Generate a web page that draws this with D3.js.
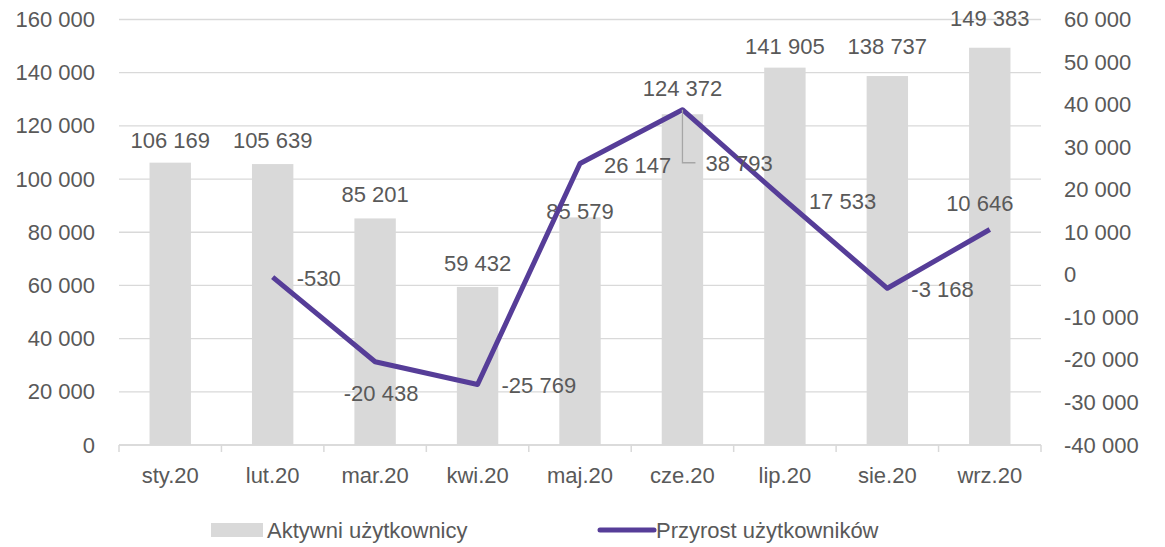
<!DOCTYPE html>
<html><head><meta charset="utf-8">
<script src="https://cdn.jsdelivr.net/npm/d3@7"></script>
<style>
body{margin:0;background:#fff;}
text{font-family:"Liberation Sans",Arial,sans-serif;fill:#595959;}
</style></head>
<body><svg id="c" width="1165" height="547"></svg>
<script>
const categories = ["sty.20","lut.20","mar.20","kwi.20","maj.20","cze.20","lip.20","sie.20","wrz.20"];
const activeUsers = [106169,105639,85201,59432,85579,124372,141905,138737,149383];
const userGrowth = [null,-530,-20438,-25769,26147,38793,17533,-3168,10646];
const leftTicks = [0,20000,40000,60000,80000,100000,120000,140000,160000];
const rightTicks = [-40000,-30000,-20000,-10000,0,10000,20000,30000,40000,50000,60000];
const seriesNames = ["Aktywni użytkownicy","Przyrost użytkowników"];

// label placement (layout, not data)
const barLabelGap = [23,24,24,24,6,26,22,30,30];
const lineLabelPos = [null,"right","below","right","right","leader","right","right","above"];

const svg = d3.select("#c");
const M = {l:119, r:1041, t:19.5, b:445};
const fs = 22;
const fmt = v => d3.format(",")(v).replace(/,/g," ").replace(/\u2212/g,"-");

const xb = d3.scaleBand().domain(categories).range([M.l,M.r]);
const yL = d3.scaleLinear().domain([0,160000]).range([M.b,M.t]);
const yR = d3.scaleLinear().domain([-40000,60000]).range([M.b,M.t]);

// gridlines
svg.append("g").selectAll("line").data(leftTicks).join("line")
  .attr("x1",M.l).attr("x2",M.r).attr("y1",d=>yL(d)).attr("y2",d=>yL(d))
  .attr("stroke","#d9d9d9").attr("stroke-width",1.3);

// bars
svg.append("g").selectAll("rect").data(activeUsers).join("rect")
  .attr("x",(d,i)=>xb(categories[i])+xb.bandwidth()/2-20.7)
  .attr("width",41.4)
  .attr("y",d=>yL(d)).attr("height",d=>yL(0)-yL(d))
  .attr("fill","#d9d9d9");

// x axis baseline + ticks
svg.append("line").attr("x1",M.l).attr("x2",M.r).attr("y1",M.b).attr("y2",M.b).attr("stroke","#d9d9d9").attr("stroke-width",1.5);
const bounds = categories.map(c=>xb(c)).concat([M.r]);
svg.append("g").selectAll("line").data(bounds).join("line")
  .attr("x1",d=>d).attr("x2",d=>d).attr("y1",M.b).attr("y2",M.b+7)
  .attr("stroke","#d9d9d9").attr("stroke-width",1.5);

// x labels
svg.append("g").selectAll("text").data(categories).join("text")
  .attr("x",d=>xb(d)+xb.bandwidth()/2).attr("y",483)
  .attr("text-anchor","middle").attr("font-size",fs).text(d=>d);

// left axis
const gl = svg.append("g").attr("transform",`translate(${M.l},0)`)
  .call(d3.axisLeft(yL).tickValues(leftTicks).tickSize(0).tickPadding(24).tickFormat(fmt));
gl.select(".domain").remove();
gl.selectAll("text").attr("font-size",fs).attr("font-family","Liberation Sans, Arial, sans-serif").attr("fill","#595959");

// right axis
const gr = svg.append("g").attr("transform",`translate(${M.r},0)`)
  .call(d3.axisRight(yR).tickValues(rightTicks).tickSize(0).tickPadding(23).tickFormat(fmt));
gr.select(".domain").remove();
gr.selectAll("text").attr("font-size",fs).attr("font-family","Liberation Sans, Arial, sans-serif").attr("fill","#595959");

// bar labels
svg.append("g").selectAll("text").data(activeUsers).join("text")
  .attr("x",(d,i)=>xb(categories[i])+xb.bandwidth()/2)
  .attr("y",(d,i)=>yL(d)-barLabelGap[i]+8)
  .attr("text-anchor","middle").attr("font-size",fs).text(d=>fmt(d));

// line
const cx = i => xb(categories[i])+xb.bandwidth()/2;
const pts = userGrowth.map((v,i)=>({v,i})).filter(d=>d.v!==null);
svg.append("path").datum(pts)
  .attr("d",d3.line().x(d=>cx(d.i)).y(d=>yR(d.v)))
  .attr("fill","none").attr("stroke","#563d98").attr("stroke-width",5).attr("stroke-linejoin","round");

pts.forEach(d=>{
  const px=cx(d.i), py=yR(d.v), pos=lineLabelPos[d.i];
  let tx, ty, anchor="start";
  if(pos==="right"){tx=px+24; ty=py+1;}
  else if(pos==="below"){tx=px+6; ty=py+31; anchor="middle";}
  else if(pos==="above"){tx=px-10; ty=py-27; anchor="middle";}
  else if(pos==="leader"){
    tx=px+23; ty=py+53;
    svg.append("path").attr("d",`M${px},${py}V${ty}H${px+13}`).attr("fill","none").attr("stroke","#a6a6a6").attr("stroke-width",1.3);
  }
  svg.append("text").attr("x",tx).attr("y",ty+8).attr("text-anchor",anchor).attr("font-size",fs).text(fmt(d.v));
});

// legend
const lg = svg.append("g");
lg.append("rect").attr("x",211).attr("y",523).attr("width",52).attr("height",14).attr("fill","#d9d9d9");
lg.append("text").attr("x",267).attr("y",538).attr("font-size",fs).text(seriesNames[0]);
lg.append("line").attr("x1",600).attr("x2",654).attr("y1",530).attr("y2",530).attr("stroke","#563d98").attr("stroke-width",5).attr("stroke-linecap","round");
lg.append("text").attr("x",656).attr("y",538).attr("font-size",fs).text(seriesNames[1]);
</script></body></html>
